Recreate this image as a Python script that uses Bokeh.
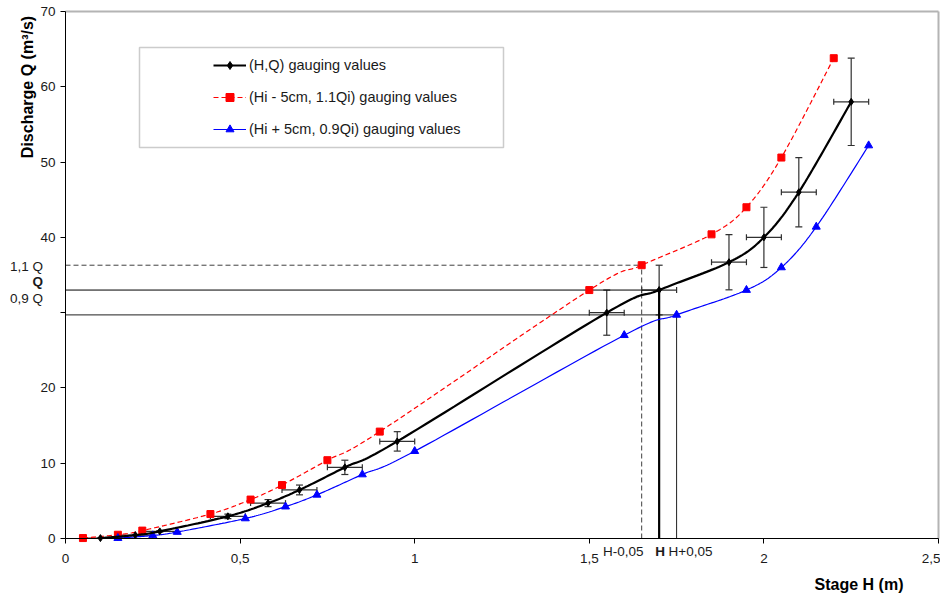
import numpy as np
from bokeh.plotting import figure
from bokeh.models import (ColumnDataSource, Whisker, TeeHead, Label, BoxAnnotation,
                          Legend, LegendItem, FixedTicker, Range1d)
from bokeh.embed import file_html
from bokeh.resources import INLINE

# ---------------- data ----------------
# (H,Q) gauging values
H = [0.10, 0.20, 0.27, 0.465, 0.58, 0.67, 0.80, 0.95, 1.55, 1.70, 1.90, 2.00, 2.10, 2.25]
Q = [0.05, 0.45, 0.95, 2.95, 4.70, 6.45, 9.45, 12.9, 30.0, 33.0, 36.7, 40.0, 46.0, 58.0]
# error bars: +/- 5 cm on H, +/- 10 % on Q
H_err = [0.05, 0.05, 0.05, 0.05, 0.05, 0.05, 0.05, 0.05, 0.05, 0.05, 0.05, 0.05, 0.05, 0.05]
Q_err = [0.005, 0.045, 0.095, 0.30, 0.47, 0.65, 0.95, 1.29, 3.0, 3.3, 3.67, 4.0, 4.6, 5.8]
# (Hi - 5cm, 1.1Qi) gauging values
H_minus = [0.05, 0.15, 0.22, 0.415, 0.53, 0.62, 0.75, 0.90, 1.50, 1.65, 1.85, 1.95, 2.05, 2.20]
Q_plus = [0.06, 0.50, 1.05, 3.25, 5.17, 7.10, 10.4, 14.2, 33.0, 36.3, 40.4, 44.0, 50.6, 63.8]
# (Hi + 5cm, 0.9Qi) gauging values
H_plus = [0.15, 0.25, 0.32, 0.515, 0.63, 0.72, 0.85, 1.00, 1.60, 1.75, 1.95, 2.05, 2.15, 2.30]
Q_minus = [0.05, 0.40, 0.86, 2.66, 4.23, 5.80, 8.50, 11.6, 27.0, 29.7, 33.0, 36.0, 41.4, 52.2]

# reference construction lines: (H-0,05 ; 1,1 Q), (H ; Q), (H+0,05 ; 0,9 Q)
H_ref = [1.65, 1.70, 1.75]
Q_ref = [36.3, 33.0, 29.7]
H_ref_labels = ["H-0,05", "H", "H+0,05"]
Q_ref_labels = ["1,1 Q", "Q", "0,9 Q"]

x_ticks = [0, 0.5, 1, 1.5, 2, 2.5]
x_tick_labels = ["0", "0,5", "1", "1,5", "2", "2,5"]
y_ticks = [0, 10, 20, 30, 40, 50, 60, 70]
y_tick_labels = ["0", "10", "20", "", "40", "50", "60", "70"]

legend_labels = ["(H,Q) gauging values",
                 "(Hi - 5cm, 1.1Qi) gauging values",
                 "(Hi + 5cm, 0.9Qi) gauging values"]

FONT = "Liberation Sans"

# ---------------- geometry of the canvas ----------------
W, HH = 940, 594            # canvas size
X0_PX, Y0_PX = 65, 538      # pixel position of the data origin
PX_X = 873 / 2.5            # pixels per metre
PX_Y = 527 / 70.0           # pixels per m3/s


def smooth(xs, ys, n=24):
    """Excel-style smoothed line: cubic Bezier through the points."""
    P = np.column_stack([xs, ys]).astype(float)
    out = [P[0]]
    t = np.linspace(0, 1, n)[1:, None]
    for i in range(len(P) - 1):
        p0 = P[i - 1] if i > 0 else P[i]
        p1, p2 = P[i], P[i + 1]
        p3 = P[i + 2] if i + 2 < len(P) else P[i + 1]
        c1 = p1 + (p2 - p0) / 6.0
        c2 = p2 - (p3 - p1) / 6.0
        seg = (1 - t) ** 3 * p1 + 3 * (1 - t) ** 2 * t * c1 + 3 * (1 - t) * t ** 2 * c2 + t ** 3 * p2
        out.extend(seg)
    out = np.array(out)
    return out[:, 0], out[:, 1]


def dx(px):
    return (px - X0_PX) / PX_X


def dy(py):
    return (Y0_PX - py) / PX_Y


p = figure(frame_width=W, frame_height=HH,
           x_range=Range1d(dx(0), dx(W)), y_range=Range1d(dy(HH), dy(0)),
           output_backend="svg", toolbar_location=None,
           min_border=0, min_border_left=0, min_border_right=0,
           min_border_top=0, min_border_bottom=0,
           background_fill_color="white", border_fill_color="white")

p.xgrid.visible = False
p.ygrid.visible = False
p.outline_line_color = None

for ax in (p.xaxis[0], p.yaxis[0]):
    ax.fixed_location = 0
    ax.axis_line_color = "black"
    ax.axis_line_width = 1
    ax.major_tick_line_color = "black"
    ax.major_tick_out = 5
    ax.major_tick_in = 0
    ax.minor_tick_out = 0
    ax.minor_tick_in = 0
    ax.major_label_text_font = FONT
    ax.major_label_text_font_size = "13.5px"
    ax.major_label_text_color = "#1a1a1a"

p.xaxis.bounds = (x_ticks[0], x_ticks[-1])
p.yaxis.bounds = (y_ticks[0], y_ticks[-1])
p.xaxis.ticker = FixedTicker(ticks=x_ticks)
p.xaxis.major_label_overrides = {float(t): l for t, l in zip(x_ticks, x_tick_labels)}
p.xaxis.major_label_standoff = 10
p.yaxis.ticker = FixedTicker(ticks=y_ticks)
p.yaxis.major_label_overrides = {float(t): l for t, l in zip(y_ticks, y_tick_labels)}
p.yaxis.major_label_standoff = 5

# plot-area border (top and right, light grey)
p.line([x_ticks[0], x_ticks[-1]], [y_ticks[-1], y_ticks[-1]], line_color="#b4b4b4", line_width=2)
p.line([x_ticks[-1], x_ticks[-1]], [y_ticks[0], y_ticks[-1]], line_color="#b4b4b4", line_width=2)

# ---------------- reference construction lines ----------------
hor_styles = [dict(line_color="#404040", line_width=1, line_dash="5 3"),
              dict(line_color="black", line_width=1),
              dict(line_color="#202020", line_width=1)]
for i in range(3):
    p.line([0, H_ref[i]], [Q_ref[i], Q_ref[i]], **hor_styles[i])
vert_styles = [dict(line_color="#404040", line_width=1, line_dash="5 3"),
               dict(line_color="black", line_width=2.2),
               dict(line_color="#202020", line_width=1)]
for i in range(3):
    p.line([H_ref[i], H_ref[i]], [0, Q_ref[i]], **vert_styles[i])

# ---------------- series ----------------
rx, ry = smooth(H_minus, Q_plus)
red_line = p.line(rx, ry, line_color="#ff0000", line_width=1.2, line_dash="5 3")
red_pts = p.scatter(H_minus, Q_plus, marker="square", size=7, fill_color="#ff0000", line_color="#ff0000")

bx, by = smooth(H_plus, Q_minus)
blue_line = p.line(bx, by, line_color="#0000ff", line_width=1.2)
blue_pts = p.scatter(H_plus, Q_minus, marker="triangle", size=8, fill_color="#0000ff", line_color="#0000ff")

kx, ky = smooth(H, Q)
black_line = p.line(kx, ky, line_color="black", line_width=2.2)
black_pts = p.scatter(H, Q, marker="diamond", size=7, fill_color="black", line_color="black")

# ---------------- error bars ----------------
src = ColumnDataSource(dict(
    h=H, q=Q,
    hlo=[h - e for h, e in zip(H, H_err)], hhi=[h + e for h, e in zip(H, H_err)],
    qlo=[q - e for q, e in zip(Q, Q_err)], qhi=[q + e for q, e in zip(Q, Q_err)]))
EB = "#303030"
p.add_layout(Whisker(source=src, base="h", lower="qlo", upper="qhi", dimension="height",
                     line_color=EB, line_width=1.2,
                     upper_head=TeeHead(size=7, line_color=EB, line_width=1.2),
                     lower_head=TeeHead(size=7, line_color=EB, line_width=1.2)))
p.add_layout(Whisker(source=src, base="q", lower="hlo", upper="hhi", dimension="width",
                     line_color=EB, line_width=1.2,
                     upper_head=TeeHead(size=6, line_color=EB, line_width=1.2),
                     lower_head=TeeHead(size=6, line_color=EB, line_width=1.2)))

# ---------------- legend ----------------
p.add_layout(BoxAnnotation(left=dx(139), right=dx(503), top=dy(47), bottom=dy(147),
                           fill_color="white", fill_alpha=1.0,
                           line_color="#555555", line_width=1.5, level="annotation"))
legend = Legend(items=[LegendItem(label=legend_labels[0], renderers=[black_line, black_pts]),
                       LegendItem(label=legend_labels[1], renderers=[red_line, red_pts]),
                       LegendItem(label=legend_labels[2], renderers=[blue_line, blue_pts])],
                location=(213, HH - 55 - 84), orientation="vertical",
                label_text_font=FONT, label_text_font_size="14.5px", label_text_color="#1a1a1a",
                glyph_width=33, glyph_height=20, label_height=20, spacing=12,
                padding=0, margin=0, label_standoff=3,
                border_line_alpha=0, background_fill_alpha=0)
p.add_layout(legend)

# ---------------- text annotations ----------------
p.add_layout(Label(x=dx(27), y=dy(86.5), text="Discharge Q (m³/s)", angle=np.pi / 2,
                   text_align="center", text_baseline="middle",
                   text_font=FONT, text_font_size="16px", text_font_style="bold",
                   text_color="black"))
p.add_layout(Label(x=dx(903), y=dy(584), text="Stage H (m)",
                   text_align="right", text_baseline="middle",
                   text_font=FONT, text_font_size="16px", text_font_style="bold",
                   text_color="black"))

q_lab_py = [266, 281, 298]
for i in range(3):
    p.add_layout(Label(x=dx(42.5), y=dy(q_lab_py[i]), text=Q_ref_labels[i],
                       text_align="right", text_baseline="middle",
                       text_font=FONT, text_font_size="13.5px",
                       text_font_style="bold" if i == 1 else "normal", text_color="#1a1a1a"))

h_lab_px = [643, 659.5, 668]
h_align = ["right", "center", "left"]
for i in range(3):
    p.add_layout(Label(x=dx(h_lab_px[i]), y=dy(551), text=H_ref_labels[i],
                       text_align=h_align[i], text_baseline="middle",
                       text_font=FONT, text_font_size="13.5px",
                       text_font_style="bold" if i == 1 else "normal", text_color="#1a1a1a"))

open("out.html", "w").write(file_html(p, INLINE))
